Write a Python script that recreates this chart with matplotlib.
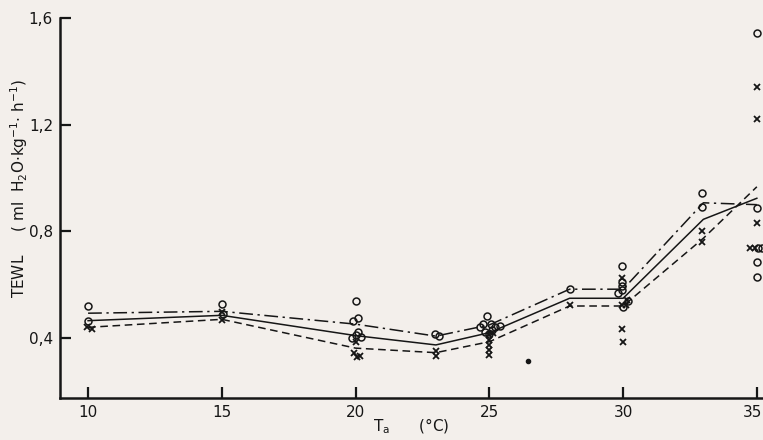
import matplotlib
matplotlib.use("Agg")
import matplotlib.pyplot as plt
import matplotlib.transforms as mtransforms
from matplotlib.ticker import FixedLocator, FuncFormatter
from matplotlib import font_manager

# ---- data ----
line_x = [10, 15, 20, 23, 25, 28, 30, 33, 35]
line_upper = [0.493, 0.50, 0.452, 0.407, 0.449, 0.583, 0.583, 0.907, 0.90]   # dash-dot
line_mean = [0.465, 0.485, 0.409, 0.374, 0.42, 0.549, 0.549, 0.845, 0.924]   # solid
line_lower = [0.44, 0.47, 0.362, 0.345, 0.386, 0.52, 0.52, 0.774, 0.967]     # dashed

circ_x = [10.0, 10.0, 15.0, 15.05,
          20.0, 20.1, 19.9, 20.1, 20.0, 19.85, 20.2,
          22.95, 23.1,
          24.9, 24.75, 25.05, 24.65, 25.2, 25.4, 24.85, 25.0, 25.1,
          28.0,
          29.95, 29.95, 29.95, 29.95, 29.8, 30.2, 30.0,
          32.95, 32.95,
          35.0, 35.0, 35.05, 35.2, 35.0, 35.0]
circ_y = [0.52, 0.462, 0.527, 0.489,
          0.539, 0.476, 0.464, 0.421, 0.411, 0.399, 0.405,
          0.415, 0.407,
          0.482, 0.452, 0.452, 0.442, 0.442, 0.445, 0.424, 0.415, 0.43,
          0.584,
          0.671, 0.611, 0.596, 0.58, 0.567, 0.539, 0.518,
          0.943, 0.892,
          1.543, 0.887, 0.737, 0.737, 0.685, 0.629]

cross_x = [9.95, 10.15, 15.0, 15.0,
           20.0, 19.95, 20.15, 20.05,
           23.0, 23.0,
           25.0, 25.15, 25.0, 25.0, 25.0, 25.0,
           28.0,
           29.95, 30.15, 29.95, 30.1, 29.95, 30.0,
           32.95, 32.95,
           35.0, 35.0, 35.0, 34.75, 34.92]
cross_y = [0.44, 0.433, 0.499, 0.467,
           0.386, 0.343, 0.334, 0.33,
           0.352, 0.332,
           0.411, 0.42, 0.393, 0.374, 0.355, 0.336,
           0.524,
           0.626, 0.542, 0.524, 0.524, 0.434, 0.384,
           0.802, 0.761,
           1.342, 1.221, 0.832, 0.737, 0.737]

dot_x = [26.45]
dot_y = [0.314]

xticks = [10, 15, 20, 25, 30, 35]
yticks = [0.4, 0.8, 1.2, 1.6]

# ---- style ----
bg = '#f3efeb'
ink = '#161616'
names = {f.name for f in font_manager.fontManager.ttflist}
fam = 'Liberation Sans Narrow' if 'Liberation Sans Narrow' in names else 'DejaVu Sans'
plt.rcParams['font.family'] = [fam, 'DejaVu Sans']
plt.rcParams['mathtext.fontset'] = 'custom'
plt.rcParams['mathtext.rm'] = fam
plt.rcParams['mathtext.it'] = fam
fs = 13 if fam != 'DejaVu Sans' else 11

fig = plt.figure(figsize=(7.63, 4.40), dpi=100, facecolor=bg)
ax = fig.add_axes([60/763, 1-398/440, (763-60)/763, (398-18)/440])
ax.set_facecolor(bg)

ax.plot(line_x, line_upper, color=ink, lw=1.1, ls=(0, (9, 3, 1.5, 3)))
ax.plot(line_x, line_mean, color=ink, lw=1.1, ls='-')
ax.plot(line_x, line_lower, color=ink, lw=1.1, ls=(0, (5, 3)))

ax.plot(circ_x, circ_y, ls='none', marker='o', ms=5, mfc='none', mec=ink, mew=1.1, clip_on=False)
ax.plot(cross_x, cross_y, ls='none', marker='x', ms=5, mec=ink, mew=1.3, clip_on=False)
ax.plot(dot_x, dot_y, ls='none', marker='o', ms=3, color=ink)

ax.set_xlim(8.95, 35.23)
ax.set_ylim(0.175, 1.6)

for s in ['top', 'right']:
    ax.spines[s].set_visible(False)
for s in ['left', 'bottom']:
    ax.spines[s].set_linewidth(1.8)
    ax.spines[s].set_color(ink)

ax.xaxis.set_major_locator(FixedLocator(xticks))
ax.yaxis.set_major_locator(FixedLocator(yticks))
ax.yaxis.set_major_formatter(FuncFormatter(lambda v, p: f"{v:.1f}".replace('.', ',')))
ax.tick_params(axis='both', direction='in', length=8, width=1.6, color=ink,
               labelsize=fs, labelcolor=ink)
ax.tick_params(axis='x', pad=5)
ax.tick_params(axis='y', pad=5)

# keep the last x tick label inside the canvas
fig.canvas.draw()
last = ax.get_xticklabels()[-1]
last.set_transform(last.get_transform() + mtransforms.ScaledTranslation(-4/100, 0, fig.dpi_scale_trans))

fig.text(411/763, 1-426/440, r"T$_\mathregular{a}$      (°C)", ha='center', va='center',
         fontsize=fs, color=ink)
fig.text(19/763, 1-188/440,
         r"TEWL     ( ml  H$_\mathregular{2}$O$\cdot$kg$^\mathregular{-1}$$\cdot$ h$^\mathregular{-1}$)",
         rotation=90, ha='center', va='center', fontsize=fs, color=ink)

fig.savefig('out.png', dpi=100, facecolor=bg)
